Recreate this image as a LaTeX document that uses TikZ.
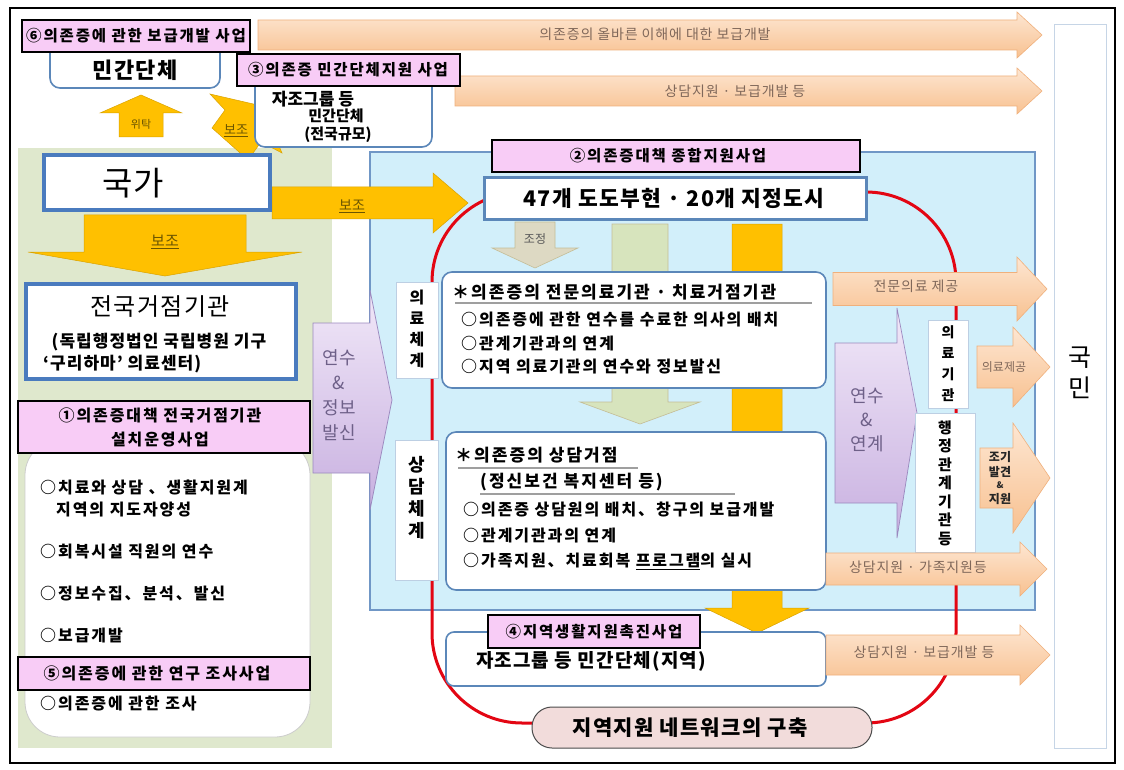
\documentclass[tikz,border=0pt]{standalone}
\usepackage{fontspec}
\setmainfont{Noto Sans CJK KR}
\newfontfamily\krs{Noto Sans CJK KR}[LetterSpace=12]
\newfontfamily\krm{Noto Sans CJK KR}[LetterSpace=6]
\newcommand\fs[1]{\fontsize{#1}{#1}\selectfont}
\definecolor{pinkL}{HTML}{F8CCF6}
\definecolor{boxblue}{HTML}{5B87B9}
\definecolor{thickblue}{HTML}{4A7BBE}
\definecolor{panelblue}{HTML}{D2EFFA}
\definecolor{paneledge}{HTML}{7097C6}
\definecolor{greenP}{HTML}{DFE8CD}
\definecolor{gold}{HTML}{FFC000}
\definecolor{goldtext}{HTML}{6B5500}
\definecolor{peachT}{HTML}{FDE6D2}
\definecolor{peachB}{HTML}{F8C190}
\definecolor{peachE}{HTML}{F0B07C}
\definecolor{peachtext}{HTML}{80685A}
\definecolor{lavT}{HTML}{F1E8F8}
\definecolor{lavB}{HTML}{C8B0E0}
\definecolor{lavE}{HTML}{9A88BE}
\definecolor{lavtext}{HTML}{6E6088}
\definecolor{redL}{HTML}{E30613}
\definecolor{khakiF}{HTML}{DDD9C3}
\definecolor{khakiE}{HTML}{C4BD97}
\definecolor{greenA}{HTML}{D7E4BD}
\definecolor{pillF}{HTML}{F2DCDB}
% right-pointing block arrow: style, tail x, tip x, centre y, shaft half, head half, head length
\newcommand\arrR[7]{\path[#1] (#2,#4-#5) -- (#3-#7,#4-#5) -- (#3-#7,#4-#6) -- (#3,#4) -- (#3-#7,#4+#6) -- (#3-#7,#4+#5) -- (#2,#4+#5) -- cycle;}
% down-pointing: style, centre x, tail y, tip y, shaft half, head half, head length
\newcommand\arrD[7]{\path[#1] (#2-#5,#3) -- (#2-#5,#4-#7) -- (#2-#6,#4-#7) -- (#2,#4) -- (#2+#6,#4-#7) -- (#2+#5,#4-#7) -- (#2+#5,#3) -- cycle;}
% up-pointing: style, centre x, tail y, tip y, shaft half, head half, head length
\newcommand\arrU[7]{\path[#1] (#2-#5,#3) -- (#2-#5,#4+#7) -- (#2-#6,#4+#7) -- (#2,#4) -- (#2+#6,#4+#7) -- (#2+#5,#4+#7) -- (#2+#5,#3) -- cycle;}
\begin{document}
\begin{tikzpicture}[x=1pt,y=-1pt,
  pinklab/.style={draw=black,line width=2.4pt,fill=pinkL},
  labtext/.style={font=\krs\bfseries\fs{15.5},inner sep=0pt},
  sbox/.style={draw=boxblue,line width=1.6pt,fill=white,rounded corners=10pt},
  tbox/.style={draw=thickblue,line width=4pt,fill=white},
  vbox/.style={draw=boxblue!40,line width=0.8pt,fill=white},
  peach/.style={top color=peachT,bottom color=peachB,draw=peachE,line width=0.6pt},
  peachtxt/.style={text=peachtext,font=\krm\fs{14},inner sep=0pt},
  goldarr/.style={fill=gold,draw=gold!85!black,line width=0.5pt},
  goldtxt/.style={text=goldtext,font=\fs{14},inner sep=0pt},
  lav/.style={top color=lavT,bottom color=lavB,draw=lavE,line width=0.7pt},
  lavtxt/.style={text=lavtext,align=center,inner sep=0pt},
  item/.style={anchor=west,font=\krs\bfseries\fs{16},inner sep=0pt},
  vtxt/.style={align=center,inner sep=0pt},
  uline/.style={draw=gray!75,line width=1.2pt},
]
\useasboundingbox (0,0) rectangle (1124,770);
\fill[white] (0,0) rectangle (1124,770);
% panels
\fill[greenP] (18,148) rectangle (332,748);
\filldraw[fill=panelblue,draw=paneledge,line width=1.2pt] (370,152) rectangle (1035,610);
\filldraw[fill=white,draw=boxblue!35,line width=1pt] (1054,25) rectangle (1106,748);
\node[vtxt,font=\fontsize{25}{31}\selectfont] (kukmin) at (1080,373) {국\\민};
% top arrows
\arrR{peach}{258}{1042}{35}{15}{23}{25}
\node[peachtxt] (ta1) at (655,34) {의존증의 올바른 이해에 대한 보급개발};
\arrR{peach}{455}{1042}{91}{15}{23}{25}
\node[peachtxt] (ta2) at (735,91) {상담지원 · 보급개발 등};
% red network loop
\draw[redL,line width=3pt,rounded corners=90pt] (432,192) rectangle (956,723);
% yellow arrows
\arrU{goldarr}{141}{137}{95}{22}{41}{18}
\node[goldtxt,font=\fs{11}] (witak) at (141,124) {위탁};
\path[goldarr] (262,106) -- (282,153) -- (261,142) -- (248,160) -- (212,128) -- (225,110) -- (210,94) -- cycle;
\node[goldtxt,font=\fs{13}] (bojo3) at (236,131) {\underline{보조}};
\arrR{goldarr}{272}{468}{203}{16}{30}{35}
\node[goldtxt] (bojo2) at (352,206) {\underline{보조}};
\arrD{goldarr}{165}{215}{276}{81}{137}{24}
\node[goldtxt,font=\fs{15}] (bojo1) at (165,242) {\underline{보조}};
% column arrows in the blue panel
\arrD{fill=khakiF,draw=khakiE,line width=0.6pt}{535}{222}{268}{20}{43}{20}
\node[text=gray!70!black,font=\fs{12},inner sep=0pt] (jojeong) at (535,239) {조정};
\arrD{fill=greenA,draw=khakiE,line width=0.6pt}{640}{224}{424}{28}{60}{22}
\arrD{goldarr}{757}{224}{633}{25}{52}{25}
% purple arrows
\path[lav] (313,323) -- (370,323) -- (370,290) -- (392,400) -- (370,510) -- (370,473) -- (313,473) -- cycle;
\node[lavtxt,font=\fontsize{18}{25}\selectfont] (yeonsu1) at (339,395) {연수\\\&\\정보\\발신};
\path[lav] (835,343) -- (897,343) -- (897,308) -- (917,413) -- (897,538) -- (897,503) -- (835,503) -- cycle;
\node[lavtxt,font=\fontsize{18}{24}\selectfont] (yeonsu2) at (867,420) {연수\\\&\\연계};
% top-left boxes
\draw[sbox] (50,28) rectangle (220,88);
\node[font=\krm\bfseries\fs{22},inner sep=0pt] (mingan) at (135,70) {민간단체};
\draw[pinklab] (22,20) rectangle (250,52);
\node[labtext] (lab6) at (136,36) {⑥의존증에 관한 보급개발 사업};
\draw[sbox] (255,70) rectangle (432,147);
\node[font=\bfseries\fs{17},inner sep=0pt] (jajo1) at (313,99) {자조그룹 등};
\node[font=\bfseries\fs{15},inner sep=0pt] (jajo2) at (336,116) {민간단체};
\node[font=\bfseries\fs{15},inner sep=0pt] (jajo3) at (338,135) {(전국규모)};
\draw[pinklab] (237,54) rectangle (460,86);
\node[labtext] (lab3) at (348,70) {③의존증 민간단체지원 사업};
% national
\draw[tbox] (44,155) rectangle (270,210);
\node[font=\fs{33},inner sep=0pt] (kukga) at (133,183) {국가};
\draw[tbox] (26,284) rectangle (296,379);
\node[font=\krm\fs{24},inner sep=0pt] (geojeom) at (160,307) {전국거점기관};
\node[font=\krm\bfseries\fs{17},inner sep=0pt] (geo2) at (159,342) {(독립행정법인 국립병원 기구};
\node[font=\krm\bfseries\fs{17},inner sep=0pt,anchor=west] (geo3) at (43,364) {‘구리하마’ 의료센터)};
% left project box
\draw[fill=white,draw=gray!40,line width=0.8pt,rounded corners=35pt] (25,440) rectangle (310,737);
\draw[pinklab] (18,401) rectangle (310,453);
\node[labtext,align=center,font=\krs\bfseries\fontsize{16}{24}\selectfont] (lab1) at (160,427) {①의존증대책 전국거점기관\\설치운영사업};
\node[item] (l1) at (40,487) {○치료와 상담 、생활지원계};
\node[item] (l2) at (56,510) {지역의 지도자양성};
\node[item] (l3) at (40,552) {○회복시설 직원의 연수};
\node[item] (l4) at (40,594) {○정보수집、분석、발신};
\node[item] (l5) at (40,635) {○보급개발};
\draw[pinklab] (18,657) rectangle (310,690);
\node[labtext,font=\krs\bfseries\fs{16}] (lab5) at (157,673) {⑤의존증에 관한 연구 조사사업};
\node[item] (l6) at (40,704) {○의존증에 관한 조사};
% comprehensive support
\draw[pinklab] (492,140) rectangle (860,172);
\node[labtext] (lab2) at (668,156) {②의존증대책 종합지원사업};
\draw[draw=boxblue,line width=3pt,fill=white] (484,178) rectangle (866,220);
\node[font=\krm\bfseries\fs{21.5},inner sep=0pt] (pref) at (674,198) {47개 도도부현 · 20개 지정도시};
% medical system
\draw[vbox] (396,282) rectangle (438,378);
\node[vtxt,font=\bfseries\fontsize{16}{21}\selectfont] (v1) at (417,329) {의\\료\\체\\계};
\draw[sbox] (442,272) rectangle (826,388);
\node[item,font=\krs\bfseries\fs{17}] (m0) at (452,292) {＊의존증의 전문의료기관 · 치료거점기관};
\draw[uline] (455,303) -- (812,303);
\node[item] (m1) at (461,320) {○의존증에 관한 연수를 수료한 의사의 배치};
\node[item] (m2) at (461,344) {○관계기관과의 연계};
\node[item] (m3) at (461,367) {○지역 의료기관의 연수와 정보발신};
% counselling system
\draw[vbox] (395,440) rectangle (438,580);
\node[vtxt,font=\bfseries\fontsize{18}{22}\selectfont] (v2) at (417,498) {상\\담\\체\\계};
\draw[sbox] (446,432) rectangle (826,590);
\node[item,font=\krs\bfseries\fs{17}] (c0) at (455,455) {＊의존증의 상담거점};
\draw[uline] (458,468) -- (638,468);
\node[item,font=\krs\bfseries\fs{17}] (c1) at (480,482) {(정신보건 복지센터 등)};
\draw[uline] (480,494) -- (735,494);
\node[item] (c2) at (463,510) {○의존증 상담원의 배치、창구의 보급개발};
\node[item] (c3) at (463,536) {○관계기관과의 연계};
\node[item] (c4) at (463,561) {○가족지원、치료회복 \underline{프로그램}의 실시};
% regional
\draw[sbox,rounded corners=8pt] (446,632) rectangle (826,686);
\node[font=\krm\bfseries\fs{19},inner sep=0pt] (region) at (591,661) {자조그룹 등 민간단체(지역)};
\draw[pinklab] (488,615) rectangle (700,648);
\node[labtext] (lab4) at (594,632) {④지역생활지원촉진사업};
\draw[fill=pillF,draw=gray!60!black,line width=1pt,rounded corners=20pt] (532,707) rectangle (872,748);
\node[font=\krm\bfseries\fs{21},inner sep=0pt] (network) at (690,728) {지역지원 네트워크의 구축};
% right institutions
\draw[vbox] (928,320) rectangle (968,408);
\node[vtxt,font=\bfseries\fontsize{14}{21}\selectfont] (v3) at (948,364) {의\\료\\기\\관};
\draw[vbox] (915,413) rectangle (975,552);
\node[vtxt,font=\bfseries\fontsize{15}{18.5}\selectfont] (v4) at (945,483) {행\\정\\관\\계\\기\\관\\등};
% right arrows
\arrR{peach}{833}{1047}{289}{16.5}{32}{30}
\node[peachtxt] (r1) at (916,286) {전문의료 제공};
\arrR{peach}{977}{1050}{367}{21}{40}{37}
\node[peachtxt,font=\fs{12}] (r2) at (1004,367) {의료제공};
\arrR{peach}{980}{1050}{478}{30}{55}{37}
\node[vtxt,font=\bfseries\fontsize{12}{15}\selectfont,text=black!85] (r3) at (1000,478) {조기\\발견\\[-3pt]{\fs{9}\&}\\지원};
\arrR{peach}{826}{1047}{569}{16}{27}{27}
\node[peachtxt] (r4) at (918,567) {상담지원 · 가족지원등};
\arrR{peach}{826}{1050}{655}{20}{30}{30}
\node[peachtxt] (r5) at (924,652) {상담지원 · 보급개발 등};
% frame
\draw[line width=1.3pt] (10,8) rectangle (1115,763);
\end{tikzpicture}
\end{document}
